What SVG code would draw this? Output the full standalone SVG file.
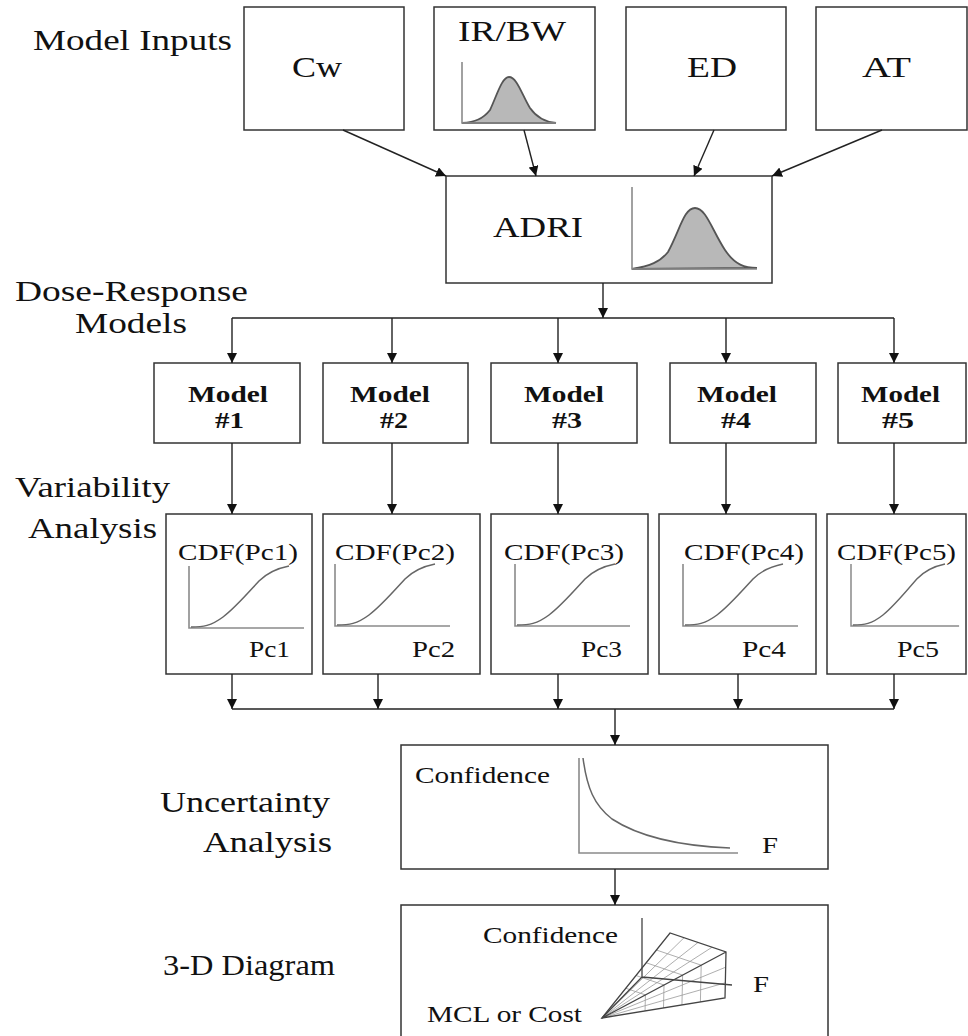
<svg xmlns="http://www.w3.org/2000/svg" xmlns:xlink="http://www.w3.org/1999/xlink" width="968" height="1036" viewBox="0 0 968 1036">
  <style>
    .bg { fill: #ffffff; }
    .box { fill: #ffffff; stroke: #333333; stroke-width: 1.5; }
    text { font-family: 'Liberation Serif', 'Times New Roman', Tinos, 'DejaVu Serif', serif; fill: #111111; }
    .lbl { font-size: 29px; }
    .mid { font-size: 23px; }
    .bold { font-size: 23px; font-weight: bold; }
    .conn { fill: none; stroke: #222222; stroke-width: 1.4; }
    .axis { fill: none; stroke: #8a8a8a; stroke-width: 1.6; }
    .curve { fill: none; stroke: #666666; stroke-width: 1.5; }
    .bell { fill: #b8b8b8; stroke: #555555; stroke-width: 1.8; }
    .edge { fill: none; stroke: #444444; stroke-width: 1.3; }
    .grid { fill: none; stroke: #999999; stroke-width: 0.8; }
  </style>
  <defs>
    <marker id="arrow" viewBox="0 0 10 10" refX="10" refY="5" markerWidth="10" markerHeight="10" markerUnits="userSpaceOnUse" orient="auto">
      <path d="M0,0 L10,5 L0,10 z" fill="#111111"/>
    </marker>
    <!-- cumulative distribution sketch: axes plus S-shaped curve -->
    <g id="cdf">
      <path class="axis" d="M0,0 V62 H115"/>
      <path class="curve" d="M2,61 C14,61 22,60 34,51 C46,42 58,28 70,15 C80,5 90,2 100,0"/>
    </g>
  </defs>

  <rect class="bg" x="0" y="0" width="968" height="1036"/>

  <!-- stage labels on the left -->
  <g id="stage-labels">
    <text class="lbl" x="33" y="50" textLength="199" lengthAdjust="spacingAndGlyphs">Model Inputs</text>
    <text class="lbl" x="15" y="301" textLength="233" lengthAdjust="spacingAndGlyphs">Dose-Response</text>
    <text class="lbl" x="75" y="333" textLength="112" lengthAdjust="spacingAndGlyphs">Models</text>
    <text class="lbl" x="15" y="497" textLength="155" lengthAdjust="spacingAndGlyphs">Variability</text>
    <text class="lbl" x="28" y="538" textLength="129" lengthAdjust="spacingAndGlyphs">Analysis</text>
    <text class="lbl" x="160" y="812" textLength="170" lengthAdjust="spacingAndGlyphs">Uncertainty</text>
    <text class="lbl" x="203" y="852" textLength="129" lengthAdjust="spacingAndGlyphs">Analysis</text>
    <text class="lbl" x="163" y="975" textLength="172" lengthAdjust="spacingAndGlyphs">3-D Diagram</text>
  </g>

  <!-- model inputs -->
  <g id="input-cw">
    <rect class="box" x="244" y="7" width="160" height="123"/>
    <text class="lbl" x="292" y="77" textLength="50" lengthAdjust="spacingAndGlyphs">Cw</text>
  </g>
  <g id="input-irbw">
    <rect class="box" x="434" y="7" width="161" height="123"/>
    <text class="lbl" x="458" y="41" textLength="108" lengthAdjust="spacingAndGlyphs">IR/BW</text>
    <path class="bell" d="M462,123 C475,122 483,119 490,110 C497,95 502,77 509,77 C517,77 522,95 530,108 C537,118 545,122 556,123 Z"/>
    <path class="axis" d="M462,62 V123 H556"/>
  </g>
  <g id="input-ed">
    <rect class="box" x="626" y="7" width="160" height="123"/>
    <text class="lbl" x="687" y="77" textLength="50" lengthAdjust="spacingAndGlyphs">ED</text>
  </g>
  <g id="input-at">
    <rect class="box" x="816" y="7" width="151" height="123"/>
    <text class="lbl" x="862" y="77" textLength="49" lengthAdjust="spacingAndGlyphs">AT</text>
  </g>

  <!-- average daily intake node -->
  <g id="adri">
    <rect class="box" x="446" y="176" width="326" height="107"/>
    <text class="lbl" x="493" y="237" textLength="90" lengthAdjust="spacingAndGlyphs">ADRI</text>
    <path class="bell" d="M632,269 C650,266 660,262 668,252 C680,230 684,208 695,208 C706,208 712,230 725,250 C735,265 745,268 757,268 Z"/>
    <path class="axis" d="M632,187 V269 H757"/>
  </g>

  <!-- dose-response models -->
  <g id="model-1">
    <rect class="box" x="154" y="363" width="146" height="80"/>
    <text class="bold" x="188" y="402" textLength="80" lengthAdjust="spacingAndGlyphs">Model</text>
    <text class="bold" x="215" y="428" textLength="29" lengthAdjust="spacingAndGlyphs">#1</text>
  </g>
  <g id="model-2">
    <rect class="box" x="323" y="363" width="145" height="80"/>
    <text class="bold" x="350" y="402" textLength="80" lengthAdjust="spacingAndGlyphs">Model</text>
    <text class="bold" x="380" y="428" textLength="28" lengthAdjust="spacingAndGlyphs">#2</text>
  </g>
  <g id="model-3">
    <rect class="box" x="491" y="363" width="146" height="80"/>
    <text class="bold" x="524" y="402" textLength="80" lengthAdjust="spacingAndGlyphs">Model</text>
    <text class="bold" x="552" y="428" textLength="30" lengthAdjust="spacingAndGlyphs">#3</text>
  </g>
  <g id="model-4">
    <rect class="box" x="670" y="363" width="146" height="80"/>
    <text class="bold" x="697" y="402" textLength="80" lengthAdjust="spacingAndGlyphs">Model</text>
    <text class="bold" x="721" y="428" textLength="30" lengthAdjust="spacingAndGlyphs">#4</text>
  </g>
  <g id="model-5">
    <rect class="box" x="838" y="363" width="128" height="80"/>
    <text class="bold" x="861" y="402" textLength="79" lengthAdjust="spacingAndGlyphs">Model</text>
    <text class="bold" x="882" y="428" textLength="32" lengthAdjust="spacingAndGlyphs">#5</text>
  </g>

  <!-- variability analysis: CDF of each model -->
  <g id="cdf-1">
    <rect class="box" x="166" y="514" width="146" height="160"/>
    <text class="mid" x="178" y="560" textLength="120" lengthAdjust="spacingAndGlyphs">CDF(Pc1)</text>
    <use xlink:href="#cdf" href="#cdf" transform="translate(189,566)"/>
    <text class="mid" x="249" y="657" textLength="41" lengthAdjust="spacingAndGlyphs">Pc1</text>
  </g>
  <g id="cdf-2">
    <rect class="box" x="323" y="514" width="157" height="160"/>
    <text class="mid" x="335" y="560" textLength="120" lengthAdjust="spacingAndGlyphs">CDF(Pc2)</text>
    <use xlink:href="#cdf" href="#cdf" transform="translate(335,564)"/>
    <text class="mid" x="412" y="657" textLength="43" lengthAdjust="spacingAndGlyphs">Pc2</text>
  </g>
  <g id="cdf-3">
    <rect class="box" x="491" y="514" width="157" height="160"/>
    <text class="mid" x="504" y="560" textLength="120" lengthAdjust="spacingAndGlyphs">CDF(Pc3)</text>
    <use xlink:href="#cdf" href="#cdf" transform="translate(515,564)"/>
    <text class="mid" x="581" y="657" textLength="41" lengthAdjust="spacingAndGlyphs">Pc3</text>
  </g>
  <g id="cdf-4">
    <rect class="box" x="659" y="514" width="157" height="160"/>
    <text class="mid" x="684" y="560" textLength="120" lengthAdjust="spacingAndGlyphs">CDF(Pc4)</text>
    <use xlink:href="#cdf" href="#cdf" transform="translate(683,564)"/>
    <text class="mid" x="742" y="657" textLength="44" lengthAdjust="spacingAndGlyphs">Pc4</text>
  </g>
  <g id="cdf-5">
    <rect class="box" x="827" y="514" width="139" height="160"/>
    <text class="mid" x="837" y="560" textLength="119" lengthAdjust="spacingAndGlyphs">CDF(Pc5)</text>
    <use xlink:href="#cdf" href="#cdf" transform="translate(851,564) scale(0.94,1)"/>
    <text class="mid" x="897" y="657" textLength="42" lengthAdjust="spacingAndGlyphs">Pc5</text>
  </g>

  <!-- uncertainty analysis -->
  <g id="uncertainty">
    <rect class="box" x="401" y="745" width="427" height="124"/>
    <text class="mid" x="415" y="783" textLength="135" lengthAdjust="spacingAndGlyphs">Confidence</text>
    <path class="axis" d="M579,758 V853 H738"/>
    <path class="curve" d="M583,758 C587,788 594,805 612,819 C638,836 680,846 730,848"/>
    <text class="mid" x="762" y="853" textLength="16" lengthAdjust="spacingAndGlyphs">F</text>
  </g>

  <!-- 3-D trade-off surface -->
  <g id="diagram-3d">
    <rect class="box" x="401" y="905" width="427" height="140"/>
    <text class="mid" x="483" y="943" textLength="135" lengthAdjust="spacingAndGlyphs">Confidence</text>
    <text class="mid" x="427" y="1022" textLength="155" lengthAdjust="spacingAndGlyphs">MCL or Cost</text>
    <text class="mid" x="753" y="992" textLength="16" lengthAdjust="spacingAndGlyphs">F</text>
    <!-- upper face grid -->
    <path class="grid" d="M602,1018 L684,937.75 M602,1018 L698,942.5 M602,1018 L712,947.25
                          M625.8,988.25 L645.4,994.9 M636,975.5 L664,985 M646.2,962.75 L682.6,975.1 M656.4,950 L701.2,965.2"/>
    <!-- front face grid -->
    <path class="grid" d="M645.4,994.9 L645.05,1011 M664,985 L663.5,1008 M682.6,975.1 L681.95,1005 M701.2,965.2 L700.4,1002
                          M602,1018 L725.7,967.2 M602,1018 L725.3,982.8"/>
    <!-- axes and outline -->
    <path class="edge" d="M642,918 V977 M642,977 L732,985 M602,1018 L642,977"/>
    <path class="edge" d="M602,1018 L670,933 L726,952 L725,998 Z M602,1018 L726,952"/>
  </g>

  <!-- connectors -->
  <g id="connectors">
    <path class="conn" d="M343,130 L446,176" marker-end="url(#arrow)"/>
    <path class="conn" d="M524,130 L536,176" marker-end="url(#arrow)"/>
    <path class="conn" d="M714,130 L694,176" marker-end="url(#arrow)"/>
    <path class="conn" d="M882,130 L772,176" marker-end="url(#arrow)"/>

    <path class="conn" d="M603,283 V318" marker-end="url(#arrow)"/>
    <path class="conn" d="M232,318 H894"/>
    <path class="conn" d="M232,318 V363" marker-end="url(#arrow)"/>
    <path class="conn" d="M392,318 V363" marker-end="url(#arrow)"/>
    <path class="conn" d="M558,318 V363" marker-end="url(#arrow)"/>
    <path class="conn" d="M726,318 V363" marker-end="url(#arrow)"/>
    <path class="conn" d="M894,318 V363" marker-end="url(#arrow)"/>

    <path class="conn" d="M232,443 V514" marker-end="url(#arrow)"/>
    <path class="conn" d="M392,443 V514" marker-end="url(#arrow)"/>
    <path class="conn" d="M558,443 V514" marker-end="url(#arrow)"/>
    <path class="conn" d="M726,443 V514" marker-end="url(#arrow)"/>
    <path class="conn" d="M894,443 V514" marker-end="url(#arrow)"/>

    <path class="conn" d="M232,674 V709" marker-end="url(#arrow)"/>
    <path class="conn" d="M378,674 V709" marker-end="url(#arrow)"/>
    <path class="conn" d="M558,674 V709" marker-end="url(#arrow)"/>
    <path class="conn" d="M738,674 V709" marker-end="url(#arrow)"/>
    <path class="conn" d="M894,674 V709" marker-end="url(#arrow)"/>
    <path class="conn" d="M232,709 H894"/>

    <path class="conn" d="M615,709 V745" marker-end="url(#arrow)"/>
    <path class="conn" d="M615,869 V905" marker-end="url(#arrow)"/>
  </g>
</svg>
